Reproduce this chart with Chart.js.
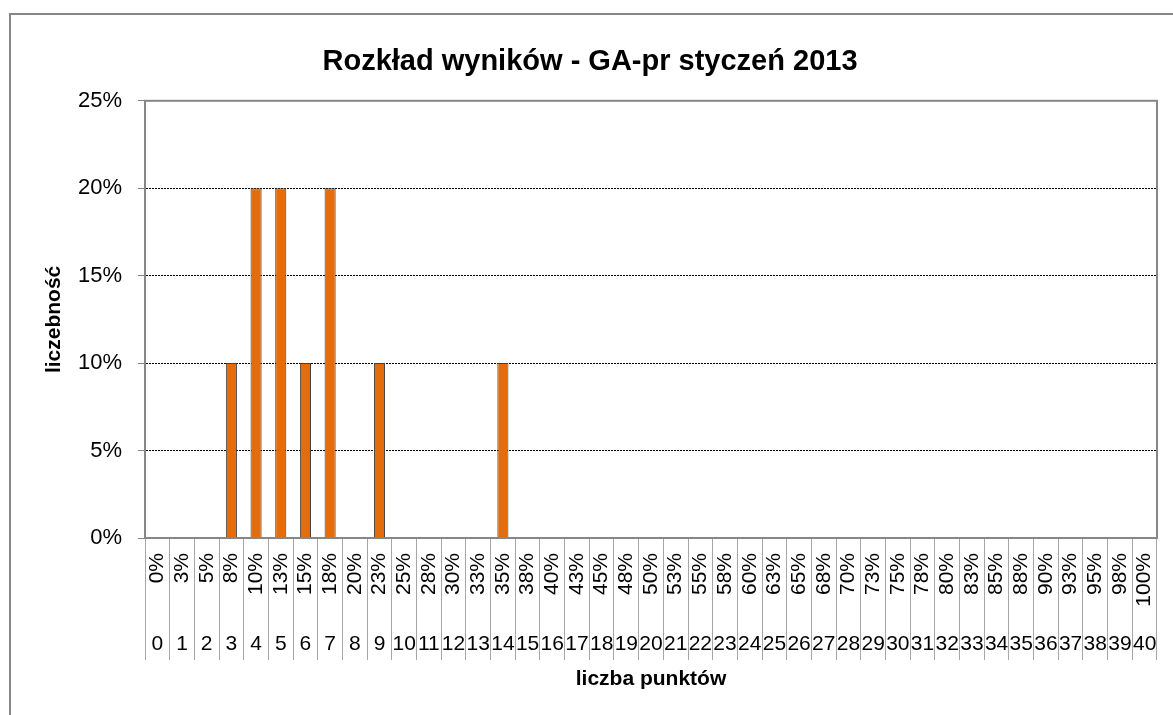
<!DOCTYPE html>
<html lang="pl">
<head>
  <meta charset="UTF-8" />
  <title>Rozkład wyników - GA-pr styczeń 2013</title>
  <script src="https://cdn.jsdelivr.net/npm/chart.js"></script>
  <style>
    html, body { margin: 0; padding: 0; background: #fff; overflow: hidden; }
    #wrap { width: 1173px; height: 715px; }
  </style>
</head>
<body>
  <div id="wrap"><canvas id="chart" width="1173" height="715"></canvas></div>

  <script>
    // liczba punktów (0..40)
    const points = ["0","1","2","3","4","5","6","7","8","9","10","11","12","13","14","15","16","17","18","19","20",
      "21","22","23","24","25","26","27","28","29","30","31","32","33","34","35","36","37","38","39","40"];

    // procent wyniku dla każdej liczby punktów
    const pctLabels = ["0%","3%","5%","8%","10%","13%","15%","18%","20%","23%","25%","28%","30%","33%","35%","38%",
      "40%","43%","45%","48%","50%","53%","55%","58%","60%","63%","65%","68%","70%","73%","75%","78%","80%","83%",
      "85%","88%","90%","93%","95%","98%","100%"];

    // liczebność (udział uczniów)
    const counts = [0, 0, 0, 0.10, 0.20, 0.20, 0.10, 0.20, 0, 0.10, 0, 0, 0, 0, 0.10, 0, 0, 0, 0, 0, 0,
      0, 0, 0, 0, 0, 0, 0, 0, 0, 0, 0, 0, 0, 0, 0, 0, 0, 0, 0, 0];

    const yTicks = [0, 0.05, 0.10, 0.15, 0.20, 0.25];

    const FONT = "Arial, 'Liberation Sans', sans-serif";
    const GRAY = "#878787";

    // ramka wykresu i obramowanie obszaru kreślenia
    const frames = {
      id: "frames",
      beforeDraw(chart) {
        const c = chart.ctx;
        c.save();
        c.fillStyle = "#fff";
        c.fillRect(0, 0, chart.width, chart.height);
        c.strokeStyle = GRAY;
        c.lineWidth = 2;
        c.strokeRect(10, 14, 1400, 900);
        c.restore();
      },
      afterDraw(chart) {
        const a = chart.chartArea;
        const c = chart.ctx;
        c.save();
        c.strokeStyle = GRAY;
        c.lineWidth = 2;
        c.strokeRect(a.left, a.top, a.right - a.left, a.bottom - a.top);
        c.restore();
      }
    };

    new Chart(document.getElementById("chart"), {
      type: "bar",
      data: {
        labels: points,
        datasets: [{
          label: "liczebność",
          data: counts,
          xAxisID: "x",
          backgroundColor: "#E46C0A",
          borderColor: "#404040",
          borderWidth: 1,
          barPercentage: 0.45,
          categoryPercentage: 1
        }]
      },
      options: {
        responsive: false,
        animation: false,
        layout: { padding: { top: 45, left: 23, right: 16, bottom: 23 } },
        plugins: {
          legend: { display: false },
          tooltip: { enabled: false },
          title: {
            display: true,
            text: "Rozkład wyników - GA-pr styczeń 2013",
            color: "#000",
            font: { family: FONT, size: 29, weight: "bold" },
            padding: { top: 0, bottom: 21 }
          }
        },
        scales: {
          y: {
            min: 0,
            max: 0.25,
            afterBuildTicks: s => { s.ticks = yTicks.map(v => ({ value: v })); },
            afterFit: s => { s.width = 122; },
            ticks: {
              color: "#000",
              padding: 16,
              font: { family: FONT, size: 22 },
              callback: v => Math.round(v * 100) + "%"
            },
            grid: {
              color: ctx => (ctx.tick && ctx.tick.value > 0.001 && ctx.tick.value < 0.249) ? "#000" : "rgba(0,0,0,0)",
              lineWidth: 1,
              tickColor: GRAY,
              tickLength: 7
            },
            border: { color: GRAY, width: 2, dash: [2, 1] },
            title: {
              display: true,
              text: "liczebność",
              color: "#000",
              font: { family: FONT, size: 21, weight: "bold" },
              padding: { top: 19, bottom: 0 }
            }
          },
          xp: {
            type: "category",
            labels: pctLabels,
            position: "bottom",
            weight: 1,
            afterFit: s => { s.height = 75; },
            ticks: {
              color: "#000",
              autoSkip: false,
              minRotation: 90,
              maxRotation: 90,
              padding: -60,
              font: { family: FONT, size: 21 }
            },
            grid: {
              offset: true,
              drawOnChartArea: false,
              color: "#a6a6a6",
              tickLength: 75
            },
            border: { color: GRAY, width: 2 }
          },
          x: {
            type: "category",
            position: "bottom",
            weight: 2,
            afterFit: s => { s.height = 79; },
            ticks: {
              color: "#000",
              autoSkip: false,
              minRotation: 0,
              maxRotation: 0,
              padding: -28,
              font: { family: FONT, size: 21 }
            },
            grid: {
              offset: true,
              drawOnChartArea: false,
              color: "#a6a6a6",
              tickLength: 47
            },
            border: { display: false },
            title: {
              display: true,
              text: "liczba punktów",
              color: "#000",
              font: { family: FONT, size: 21, weight: "bold" },
              padding: 0
            }
          }
        }
      },
      plugins: [frames]
    });
  </script>
</body>
</html>
